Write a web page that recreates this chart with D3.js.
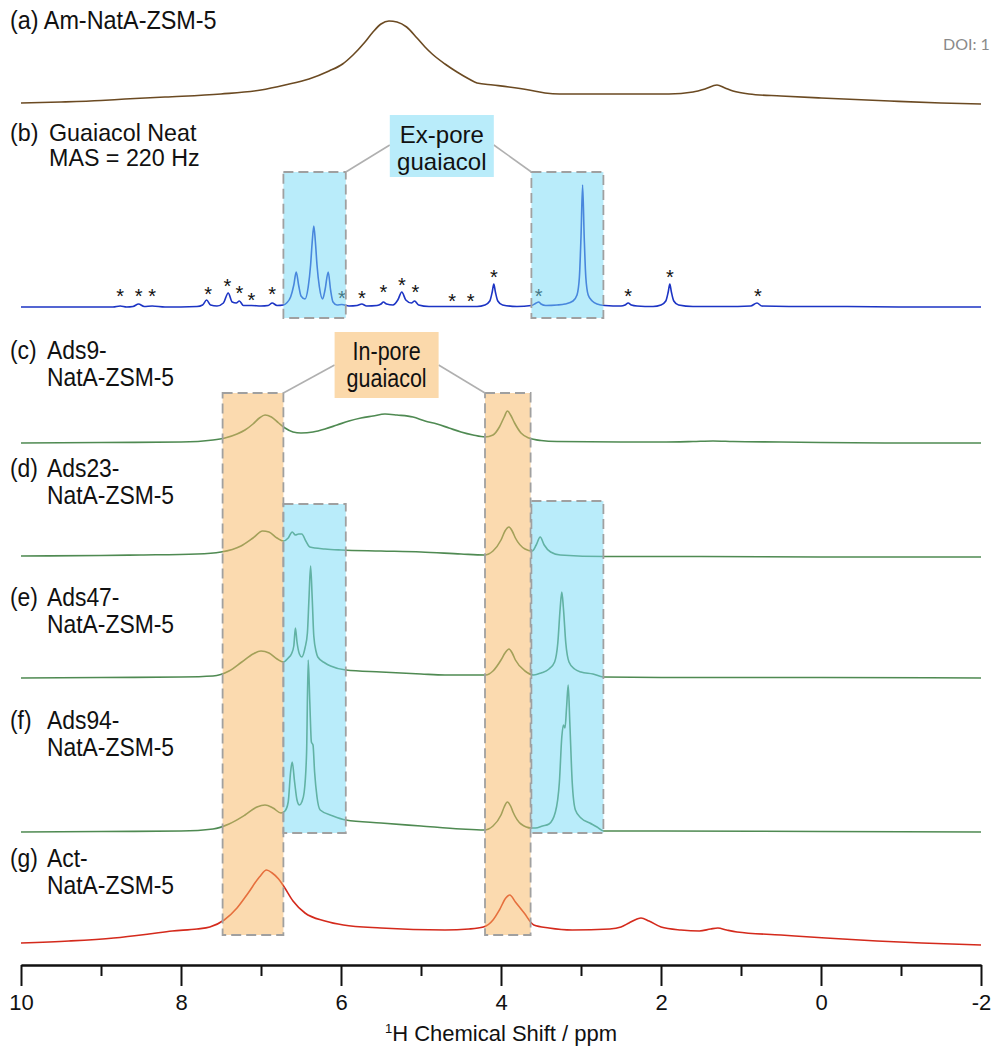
<!DOCTYPE html>
<html>
<head>
<meta charset="UTF-8">
<title>1H MAS NMR guaiacol</title>
<script src="https://cdnjs.cloudflare.com/ajax/libs/d3/7.9.0/d3.min.js"></script>
<style>
    body { margin: 0; background: #fff; }
    svg { display: block; }
    .lbl { font-family: "Liberation Sans", Arial, sans-serif; fill: #111; }
    .axis text { font-family: "Liberation Sans", Arial, sans-serif; font-size: 21px; fill: #111; }
    .axis path, .axis line { stroke: #111; stroke-width: 2; }
</style>
</head>
<body>
<div id="plot"></div>
<script>
// ---------- data (ppm, intensity above each trace's baseline) ----------
const ppmTicks = [10, 9, 8, 7, 6, 5, 4, 3, 2, 1, 0, -1, -2];
const ppmLabels = [10, 8, 6, 4, 2, 0, -2];

const specA = [[10,1],[9.5,2],[9,3.5],[8.7,5],[8.2,7],[7.5,10],[7.0,14],[6.7,19],[6.4,25],[6.15,33],[5.98,40],
    [5.85,49],[5.7,62],[5.6,72],[5.5,80],[5.4,83],[5.3,82],[5.18,77],[5.05,66],[4.95,57],[4.86,50],[4.7,40],
    [4.55,32],[4.4,25],[4.3,21],[4.1,19],[3.9,17],[3.65,14],[3.45,11],[3.27,10],[2.7,10],[1.9,10],[1.6,12],
    [1.45,15],[1.3,19],[1.2,16],[1.1,13],[0.9,10],[0.5,8],[0,6],[-0.86,3],[-1.5,1],[-2,0]];

const specB = [[10,0],[9,0],[8.85,0],[8.76,1],[8.68,0],[8.6,0.5],[8.53,3],[8.46,0.5],[8.36,1],[8.2,0],[7.8,0.5],
    [7.73,2],[7.68,7],[7.63,2],[7.55,1],[7.47,4],[7.41,14],[7.36,5],[7.31,4],[7.27,6],[7.22,1.5],[7.12,1.5],
    [7.0,1],[6.91,1.5],[6.86,4],[6.8,1.5],[6.72,2],[6.68,4],[6.63,10],[6.59,22],[6.56,35],[6.53,22],[6.5,11],
    [6.45,8],[6.41,20],[6.38,42],[6.36,65],[6.34,81],[6.32,65],[6.3,42],[6.27,20],[6.23,8],[6.2,17],[6.16,35],
    [6.13,17],[6.1,5],[6.05,2],[5.99,2.5],[5.9,1],[5.8,1.5],[5.74,3],[5.68,1],[5.55,1.5],[5.5,3],[5.47,5],
    [5.43,3],[5.35,2],[5.29,7],[5.24,15],[5.19,7],[5.12,4],[5.08,6],[5.03,2],[4.9,0.5],[4.6,0.5],[4.3,0.5],
    [4.2,2],[4.14,6],[4.11,15],[4.09,23],[4.07,15],[4.04,6],[3.98,2],[3.8,0.5],[3.62,1.5],[3.56,4],[3.53,5],
    [3.5,3],[3.44,1.5],[3.3,2],[3.2,3],[3.1,6],[3.05,12],[3.02,30],[3.0,70],[2.98,122],[2.96,70],[2.94,30],
    [2.91,12],[2.86,6],[2.8,3],[2.7,1.5],[2.5,1],[2.45,2],[2.41,4],[2.37,2],[2.3,1],[2.1,0.5],[2.0,2],[1.94,6],
    [1.91,15],[1.89,23],[1.87,15],[1.84,6],[1.78,2],[1.6,0.5],[1.2,0.5],[0.88,1],[0.8,4],[0.74,1],[0.4,0.5],
    [-0.3,0.5],[-1,0],[-2,0]];

const starsB = [[8.76,15],[8.53,15],[8.36,15],[7.66,17],[7.42,25],[7.27,18],[7.12,11],[6.86,17],[5.99,13],[5.74,13],
    [5.47,19],[5.24,26],[5.07,19],[4.61,10],[4.38,10],[4.09,34],[3.53,15],[2.41,15],[1.89,34],[0.79,15]];

const specC = [[10,0],[9,0.5],[8,1],[7.6,3],[7.45,5],[7.3,9],[7.2,13],[7.1,19],[7.02,25],[6.95,28],[6.87,26],
    [6.78,20],[6.7,15],[6.6,11],[6.5,10],[6.35,11],[6.2,14],[6.05,18],[5.9,22],[5.75,25],[5.6,27],[5.45,29],
    [5.3,28],[5.1,26],[4.95,22],[4.8,19],[4.65,15],[4.5,11],[4.35,8],[4.2,6],[4.1,8],[4.02,16],[3.96,26],
    [3.92,32],[3.88,28],[3.83,20],[3.75,10],[3.65,5],[3.5,2.5],[3.3,1.5],[2.5,1],[2.0,1],[1.6,1.5],[1.35,2],
    [1.1,1.5],[0.5,1],[0,0.5],[-1,0],[-2,0]];

const specD = [[10,1],[9,1.5],[8.5,2],[7.8,3],[7.5,5],[7.25,11],[7.1,19],[6.98,26],[6.9,25],[6.8,19],[6.72,16],
    [6.66,19],[6.61,25],[6.57,22],[6.53,23],[6.49,23],[6.44,16],[6.39,10],[6.2,8],[6.0,7],[5.5,6],[5.0,5],
    [4.5,3],[4.21,2],[4.1,6],[4.0,17],[3.95,26],[3.9,30],[3.86,26],[3.82,19],[3.7,8],[3.61,6],[3.56,12],
    [3.51,20],[3.46,12],[3.38,5],[3.26,2],[2.7,0.5],[1.5,0.5],[0,0],[-2,0]];

const specE = [[10,0],[9,0.5],[8,1],[7.6,2],[7.4,7],[7.24,16],[7.1,24],[7.0,27],[6.9,25],[6.8,19],[6.72,16],
    [6.66,20],[6.62,24],[6.59,32],[6.57,50],[6.55,36],[6.52,24],[6.49,21],[6.45,30],[6.42,45],[6.4,80],
    [6.38,112],[6.36,80],[6.34,42],[6.31,26],[6.29,21],[6.2,15],[6.13,12],[5.94,8],[5.5,6],[5.0,4],[4.7,3],
    [4.19,3],[4.1,7],[4.0,18],[3.95,25],[3.9,29],[3.86,25],[3.82,18],[3.7,7],[3.59,3],[3.5,5],[3.4,9],
    [3.33,16],[3.29,35],[3.26,70],[3.24,86],[3.22,70],[3.19,35],[3.15,16],[3.08,9],[3.0,6],[2.85,4],[2.72,1],
    [2,0.5],[0,0.5],[-2,0]];

const specF = [[10,0],[9,0.5],[8,1],[7.6,3],[7.4,8],[7.2,17],[7.05,25],[6.95,27],[6.85,24],[6.75,19],[6.7,21],
    [6.66,30],[6.63,60],[6.61,70],[6.58,50],[6.55,32],[6.52,27],[6.49,30],[6.46,40],[6.43,80],[6.41,172],
    [6.39,130],[6.37,90],[6.35,87],[6.33,60],[6.3,35],[6.26,22],[6.1,16],[5.94,12],[5.5,9],[5.0,6],[4.5,3],
    [4.21,2],[4.1,6],[4.0,17],[3.96,25],[3.92,30],[3.88,26],[3.85,20],[3.75,8],[3.62,4],[3.57,4],[3.48,6],
    [3.4,8],[3.32,20],[3.27,50],[3.24,95],[3.22,107],[3.2,104],[3.18,125],[3.16,147],[3.14,110],[3.11,50],
    [3.07,22],[3.0,14],[2.89,9],[2.8,5],[2.72,1],[2,1],[0,0.5],[-2,0]];

const specG = [[10,2],[9.4,4],[8.84,7],[8.4,11],[8.11,14],[7.8,16],[7.64,18],[7.46,25],[7.3,37],[7.16,52],
    [7.02,68],[6.93,75],[6.86,72],[6.78,66],[6.71,58],[6.6,44],[6.45,32],[6.2,24],[5.97,20],[5.5,17],[4.7,15],
    [4.4,16],[4.22,18],[4.1,25],[4.02,35],[3.94,47],[3.89,50],[3.82,43],[3.71,32],[3.59,20],[3.4,17],[3.11,15],
    [2.64,16],[2.5,18],[2.4,22],[2.3,26],[2.25,27],[2.15,24],[2.0,18],[1.75,15],[1.52,14],[1.38,16],[1.29,17],
    [1.18,15],[1.05,13],[0.5,10],[-0.06,7],[-0.7,4],[-1.26,2],[-2,0]];

const exPoreRegions = [[6.72, 5.94], [3.62, 2.72]];
const inPoreRegions = [[7.48, 6.72], [4.2, 3.63]];

const sampleTags = ["(b)", "(c)", "(d)", "(e)", "(f)", "(g)"];
const sampleNames = [["Guaiacol Neat", "MAS = 220 Hz"], ["Ads9-", "NatA-ZSM-5"], ["Ads23-", "NatA-ZSM-5"],
    ["Ads47-", "NatA-ZSM-5"], ["Ads94-", "NatA-ZSM-5"], ["Act-", "NatA-ZSM-5"]];
const titleA = "(a) Am-NatA-ZSM-5";

// ---------- layout ----------
const W = 993, H = 1048;
const svg = d3.select("#plot").append("svg").attr("width", W).attr("height", H);

const xScale = d3.scaleLinear().domain([10, -2]).range([21, 981]);
// each trace sits on its own baseline, 1 intensity unit = 1 px
const rowScale = base => d3.scaleLinear().domain([0, 100]).range([base, base - 100]);

const traces = [
    {data: specA, base: 104, color: "#6b4a22"},
    {data: specB, base: 307, color: "#1c34c4"},
    {data: specC, base: 443, color: "#4f8a52"},
    {data: specD, base: 557, color: "#4f8a52"},
    {data: specE, base: 678, color: "#4f8a52"},
    {data: specF, base: 832, color: "#4f8a52"},
    {data: specG, base: 945, color: "#d42a1c"}
];

traces.forEach(t => {
    const y = rowScale(t.base);
    const line = d3.line().x(d => xScale(d[0])).y(d => y(d[1])).curve(d3.curveMonotoneX);
    svg.append("path").datum(t.data)
        .attr("d", line).attr("fill", "none")
        .attr("stroke", t.color).attr("stroke-width", 1.6)
        .attr("stroke-linejoin", "round");
});

// spinning sidebands
const yB = rowScale(307);
svg.selectAll(".star").data(starsB).enter().append("text")
    .attr("class", "lbl star")
    .attr("x", d => xScale(d[0]))
    .attr("y", d => yB(d[1]) + 11)
    .attr("text-anchor", "middle")
    .attr("font-size", 20)
    .text("*");

// shaded regions, drawn over the traces
function region(r, top, bottom, fill) {
    const x0 = xScale(r[0]), x1 = xScale(r[1]);
    svg.append("rect")
        .attr("x", x0).attr("y", top)
        .attr("width", x1 - x0).attr("height", bottom - top)
        .attr("fill", fill).attr("fill-opacity", 0.5)
        .attr("stroke", "#a0a0a0").attr("stroke-width", 1.8)
        .attr("stroke-dasharray", "10,5");
}
const blueFill = "#73d9f5", orangeFill = "#f8b560";
exPoreRegions.forEach(r => region(r, 172, 318, blueFill));
inPoreRegions.forEach(r => region(r, 393, 935, orangeFill));
region(exPoreRegions[0], 504, 833, blueFill);
region(exPoreRegions[1], 501, 833, blueFill);

// callout boxes
function callout(cPpm, top, bottom, fill, lines, regions, boxTop, joinY, narrow) {
    const cx = xScale(cPpm), w = 104;
    svg.append("line").attr("x1", xScale(regions[0][1])).attr("y1", boxTop)
        .attr("x2", cx - w / 2).attr("y2", joinY)
        .attr("stroke", "#b0b0b0").attr("stroke-width", 1.6);
    svg.append("line").attr("x1", cx + w / 2).attr("y1", joinY)
        .attr("x2", xScale(regions[1][0])).attr("y2", boxTop)
        .attr("stroke", "#b0b0b0").attr("stroke-width", 1.6);
    svg.append("rect").attr("x", cx - w / 2).attr("y", top)
        .attr("width", w).attr("height", bottom - top).attr("fill", fill);
    lines.forEach((s, i) => {
        svg.append("text").attr("class", "lbl")
            .attr("transform", `translate(${cx},${top + 28 + i * 27}) scale(${narrow ? 0.86 : 1},1)`)
            .attr("text-anchor", "middle").attr("font-size", narrow ? 25 : 24)
            .text(s);
    });
}
callout(4.74, 115, 177, "#b9ecfa", ["Ex-pore", "guaiacol"], exPoreRegions, 172, 145, false);
callout(5.43, 332, 398, "#fbd9ab", ["In-pore", "guaiacol"], inPoreRegions, 393, 365, true);

// sample labels
function label(x, y, s, size, sx) {
    svg.append("text").attr("class", "lbl")
        .attr("transform", `translate(${x},${y}) scale(${sx},1)`)
        .attr("font-size", size).text(s);
}
label(10, 29, titleA, 26, 0.9);
const labelY = [141, 359, 477, 606, 729, 867];
sampleTags.forEach((tag, i) => {
    const b = i === 0;
    const size = b ? 24 : 26, sx = b ? 0.97 : 0.88;
    label(10, labelY[i], tag, size, sx);
    sampleNames[i].forEach((s, j) => label(b ? 49 : 47, labelY[i] + j * (b ? 25 : 27), s, size, sx));
});

// DOI watermark
svg.append("text").attr("x", 943).attr("y", 50)
    .attr("font-family", "Lato, sans-serif").attr("font-size", 16)
    .attr("fill", "#8a8a8a").text("DOI: 1");

// x axis
const axisY = 965;
svg.append("g").attr("class", "axis")
    .attr("transform", `translate(0,${axisY})`)
    .call(d3.axisBottom(xScale).tickValues(ppmTicks.filter(v => !ppmLabels.includes(v)))
        .tickSize(11).tickSizeOuter(0).tickFormat(""));
svg.append("g").attr("class", "axis")
    .attr("transform", `translate(0,${axisY})`)
    .call(d3.axisBottom(xScale).tickValues(ppmLabels)
        .tickSize(21).tickSizeOuter(0).tickPadding(8).tickFormat(d3.format("d")))
    .call(g => g.selectAll("text").text(d => d < 0 ? "-" + Math.abs(d) : d).style("font-size", "22px"));

const title = svg.append("text").attr("class", "lbl")
    .attr("x", xScale(4)).attr("y", 1041)
    .attr("text-anchor", "middle").attr("font-size", 22);
title.append("tspan").attr("font-size", 13).attr("dy", -8).text("1");
title.append("tspan").attr("dy", 8).text("H Chemical Shift / ppm");
</script>
</body>
</html>
